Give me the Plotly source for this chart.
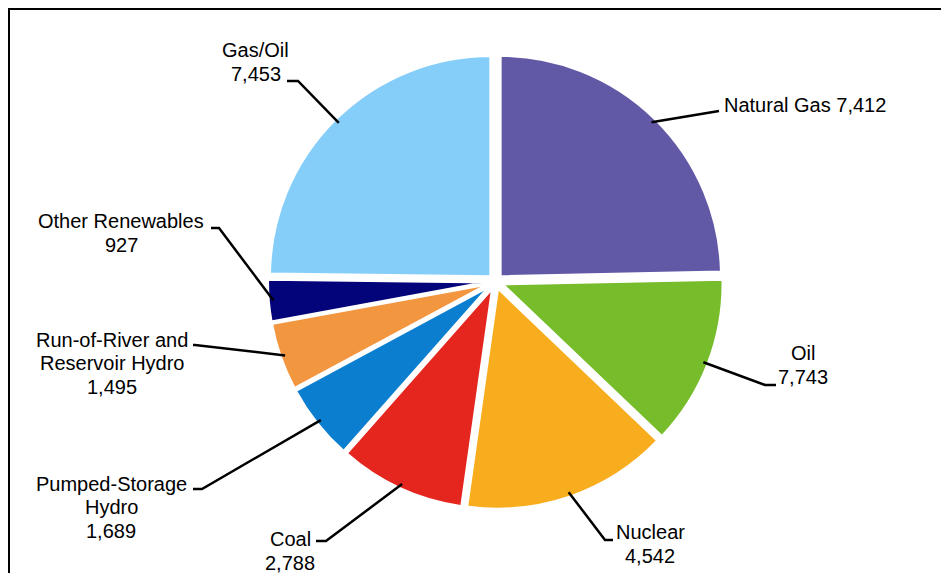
import math
import plotly.graph_objects as go

# ---- data ----
categories = ["Natural Gas", "Oil", "Nuclear", "Coal", "Pumped-Storage Hydro",
              "Run-of-River and Reservoir Hydro", "Other Renewables", "Gas/Oil"]
# slice sizes as drawn in the picture
values = [7412, 3743, 4542, 2788, 1689, 1495, 927, 7453]
# values printed on the labels
label_values = ["7,412", "7,743", "4,542", "2,788", "1,689", "1,495", "927", "7,453"]
label_lines = [["Natural Gas 7,412"], ["Oil"], ["Nuclear"], ["Coal"],
               ["Pumped-Storage", "Hydro"], ["Run-of-River and", "Reservoir Hydro"],
               ["Other Renewables"], ["Gas/Oil"]]
colors = ["#6158A6", "#77BC2B", "#F8AD1F", "#E5261F", "#0C7ECF",
          "#F39640", "#03037A", "#86CEFA"]

# page offset of the plot div (browser body margin)
OFF = 8
W, H = 949 - OFF, 573 - OFF
CX, CY, R = 495.5, 281.5, 228.0
LINE_H = 23.5


def px(x):
    return (x - OFF) / W


def py(y):
    return 1 - (y - OFF) / H


# ---- layout of labels (pixel positions): text pos, xanchor, elbow, end ----
label_layout = [
    dict(tx=722, ty=105, xa="left", elbow=(719, 111), end=(719, 111)),
    dict(tx=803, ty=365, xa="center", elbow=(765, 385), end=(776, 385)),
    dict(tx=650, ty=544, xa="center", elbow=(605, 540), end=(613, 540)),
    dict(tx=290, ty=551, xa="center", elbow=(326, 541), end=(316, 541)),
    dict(tx=111, ty=507, xa="center", elbow=(202, 489), end=(193, 489)),
    dict(tx=112, ty=363, xa="center", elbow=(195, 345), end=(193, 345)),
    dict(tx=121, ty=233, xa="center", elbow=(219, 228), end=(211, 228)),
    dict(tx=256, ty=62, xa="center", elbow=(298, 81), end=(287, 81)),
]

fig = go.Figure()
fig.add_trace(go.Pie(
    labels=categories,
    values=values,
    sort=False,
    direction="clockwise",
    rotation=0,
    marker=dict(colors=colors, line=dict(color="white", width=3)),
    pull=[0.03] * len(values),
    textinfo="none",
    hoverinfo="label+value",
    showlegend=False,
    domain=dict(x=[px(CX - R), px(CX + R)], y=[py(CY + R), py(CY - R)]),
))

font = dict(family="Liberation Sans, Arial, sans-serif", size=20, color="black")
total = sum(values)
cum = 0.0
shapes = []
annotations = []
for i, v in enumerate(values):
    mid = (cum + v / 2) / total * 360.0
    cum += v
    a = math.radians(mid)
    ax = CX + (R - 5) * math.sin(a)
    ay = CY - (R - 5) * math.cos(a)
    L = label_layout[i]
    ex, ey = L["elbow"]
    fx, fy = L["end"]
    shapes.append(dict(type="path", xref="paper", yref="paper",
                       path=f"M {px(ax)} {py(ay)} L {px(ex)} {py(ey)} L {px(fx)} {py(fy)}",
                       line=dict(color="black", width=2.5)))
    lines = list(label_lines[i])
    if i != 0:
        lines.append(label_values[i])
    n = len(lines)
    for k, t in enumerate(lines):
        yk = L["ty"] + (k - (n - 1) / 2) * LINE_H
        annotations.append(dict(
            x=px(L["tx"]), y=py(yk), xref="paper", yref="paper",
            text=t, showarrow=False, xanchor=L["xa"], yanchor="middle",
            align="center", font=font,
        ))

# chart frame (left and top edges visible)
shapes.append(dict(type="line", xref="paper", yref="paper",
                   x0=px(9), y0=py(9), x1=px(9), y1=0, line=dict(color="black", width=2)))
shapes.append(dict(type="line", xref="paper", yref="paper",
                   x0=px(8), y0=py(9), x1=1, y1=py(9), line=dict(color="black", width=2)))

fig.update_layout(
    width=W, height=H,
    margin=dict(l=0, r=0, t=0, b=0),
    paper_bgcolor="white", plot_bgcolor="white",
    shapes=shapes, annotations=annotations,
)

fig.write_html("out.html")
